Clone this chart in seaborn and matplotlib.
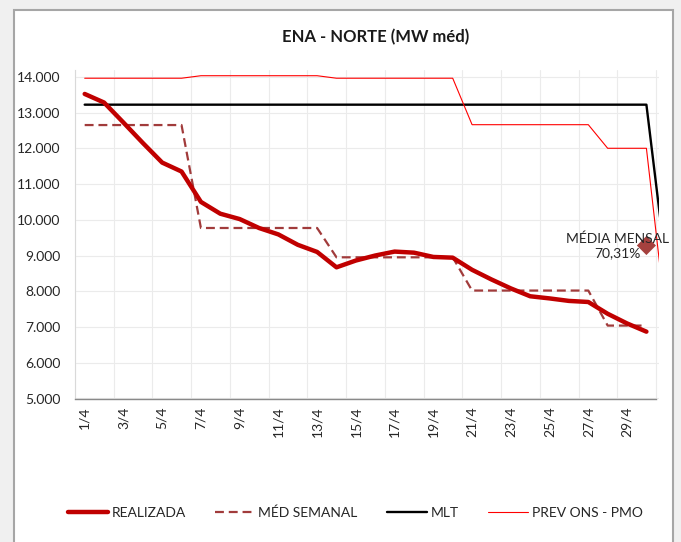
import numpy as np
import pandas as pd
import matplotlib.pyplot as plt
import seaborn as sns
from matplotlib.patches import Rectangle
from matplotlib.ticker import FuncFormatter

# Data (MW med)
dias = ["1/4", "2/4", "3/4", "4/4", "5/4", "6/4", "7/4", "8/4", "9/4", "10/4",
        "11/4", "12/4", "13/4", "14/4", "15/4", "16/4", "17/4", "18/4", "19/4", "20/4",
        "21/4", "22/4", "23/4", "24/4", "25/4", "26/4", "27/4", "28/4", "29/4", "30/4"]

realizada = [13520, 13280, 12720, 12150, 11600, 11350, 10500, 10170, 10020, 9770,
             9590, 9300, 9100, 8670, 8860, 9000, 9110, 9080, 8960, 8940,
             8600, 8330, 8080, 7860, 7800, 7730, 7700, 7370, 7100, 6870]

med_semanal = [12650, 12650, 12650, 12650, 12650, 12650, 9770, 9770, 9770, 9770,
               9770, 9770, 9770, 8950, 8950, 8950, 8950, 8950, 8950, 8950,
               8020, 8020, 8020, 8020, 8020, 8020, 8020, 7040, 7040, 7040]

# MLT and PMO forecast carry one more point (1/5) that is cut at the plot edge
mlt = [13220, 13220, 13220, 13220, 13220, 13220, 13220, 13220, 13220, 13220,
       13220, 13220, 13220, 13220, 13220, 13220, 13220, 13220, 13220, 13220,
       13220, 13220, 13220, 13220, 13220, 13220, 13220, 13220, 13220, 13220, 8760]

prev_pmo = [13960, 13960, 13960, 13960, 13960, 13960, 14030, 14030, 14030, 14030,
            14030, 14030, 14030, 13960, 13960, 13960, 13960, 13960, 13960, 13960,
            12660, 12660, 12660, 12660, 12660, 12660, 12660, 12000, 12000, 12000, 7270]

media_mensal = 9280
media_mensal_txt = "MÉDIA MENSAL\n70,31%"

x30 = np.arange(len(dias))
x31 = np.arange(len(mlt))

sns.set_style("white")
plt.rcParams['font.family'] = ['Lato', 'DejaVu Sans']

fig = plt.figure(figsize=(6.81, 5.42), dpi=100)
fig.patch.set_facecolor("#f0f0f0")
fig.add_artist(Rectangle((14 / 681, -0.01), (673 - 14) / 681, 1 - 10 / 542 + 0.01,
                         transform=fig.transFigure, facecolor="white",
                         edgecolor="#a6a6a6", lw=1.5, zorder=-5))

ax = fig.add_axes([75 / 681, 1 - 398.5 / 542, (659 - 75) / 681, (398.5 - 70) / 542])
ax.set_facecolor("white")

sns.lineplot(x=x30, y=realizada, ax=ax, color="#C00000", lw=3.2, label="REALIZADA",
             sort=False, solid_joinstyle="round", solid_capstyle="round", zorder=4)
sns.lineplot(x=x30, y=med_semanal, ax=ax, color="#A13B3B", lw=1.6, label="MÉD SEMANAL",
             sort=False, linestyle=(0, (4, 2.2)), zorder=3)
sns.lineplot(x=x31, y=mlt, ax=ax, color="black", lw=1.7, label="MLT", sort=False, zorder=3)
sns.lineplot(x=x31, y=prev_pmo, ax=ax, color="#FF0000", lw=0.8, label="PREV ONS - PMO",
             sort=False, zorder=3)

sns.scatterplot(x=[x30[-1]], y=[media_mensal], ax=ax, marker="D", s=95,
                color="#A5413E", edgecolor="none", zorder=5, legend=False)
ax.annotate(media_mensal_txt, xy=(x30[-1], media_mensal), xytext=(-21, 0),
            textcoords="offset points", ha="center", va="center",
            multialignment="center", fontsize=10, color="#262626",
            annotation_clip=False, zorder=6)

ax.set_xlim(-0.5, 29.65)
ax.set_ylim(5000, 14190)
ax.set_yticks(np.arange(5000, 14001, 1000))
ax.yaxis.set_major_formatter(FuncFormatter(lambda v, p: f"{v:,.0f}".replace(",", ".")))
ax.set_xticks(x30[::2])
ax.set_xticklabels(dias[::2], rotation=90)
ax.set_xticks(np.arange(-0.5, 30, 2), minor=True)

ax.grid(which="major", axis="y", color="#ebebeb", lw=0.8)
ax.grid(which="minor", axis="x", color="#ebebeb", lw=0.8)
ax.set_axisbelow(True)

ax.tick_params(axis="y", length=4.5, width=0.8, color="#d0d0d0", pad=6,
               labelsize=10, labelcolor="#262626")
ax.tick_params(axis="x", which="both", length=0, pad=6, labelsize=10, labelcolor="#262626")

for s in ["top", "right"]:
    ax.spines[s].set_visible(False)
ax.spines["left"].set_color("#d9d9d9")
ax.spines["left"].set_linewidth(0.8)
ax.spines["bottom"].set_color("#898989")
ax.spines["bottom"].set_linewidth(1.0)
ax.spines["bottom"].set_bounds(-0.5, 29.5)
ax.set_xlabel("")
ax.set_ylabel("")

fig.text(376 / 681, 1 - 37 / 542, "ENA - NORTE (MW méd)", ha="center", va="center",
         fontsize=12, fontweight="bold", color="#1a1a1a")

handles, labels = ax.get_legend_handles_labels()
ax.get_legend().remove()
fig.legend(handles, labels, loc="center", bbox_to_anchor=(355 / 681, 1 - 513 / 542),
           ncol=4, frameon=False, fontsize=10, handlelength=2.9, handletextpad=0.25,
           columnspacing=2.1, labelcolor="#262626")

fig.savefig("out.png", dpi=100, facecolor=fig.get_facecolor())
